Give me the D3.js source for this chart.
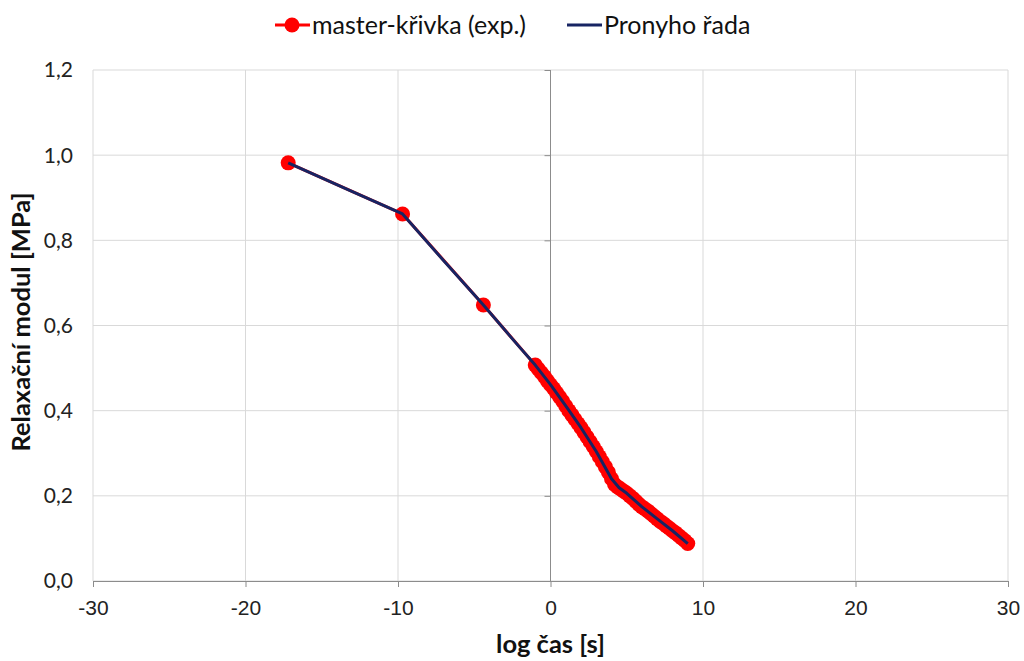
<!DOCTYPE html>
<html>
<head>
<meta charset="utf-8">
<script src="https://cdn.jsdelivr.net/npm/d3@7"></script>
<style>
  html, body { margin: 0; padding: 0; background: #fff; }
  svg { display: block; font-family: Lato, "Open Sans", sans-serif; }
</style>
</head>
<body>
<div id="chart"></div>
<script>
// measured master curve (log time, modulus in MPa)
var EXP_X = [-17.2, -9.7, -4.4,
  -1.0, -0.8, -0.6, -0.4, -0.2, 0.0, 0.2, 0.4, 0.6, 0.8, 1.0, 1.2, 1.4, 1.6, 1.8, 2.0,
  2.2, 2.4, 2.6, 2.8, 3.0, 3.2, 3.4, 3.6, 3.8, 4.0, 4.2, 4.4, 4.6, 4.8, 5.0, 5.2, 5.4,
  5.6, 5.8, 6.0, 6.2, 6.4, 6.6, 6.8, 7.0, 7.2, 7.4, 7.6, 7.8, 8.0, 8.2, 8.4, 8.6, 8.8, 9.0];
var EXP_Y = [0.982, 0.862, 0.648,
  0.507, 0.498, 0.489, 0.480, 0.470, 0.461, 0.452, 0.442, 0.432, 0.422, 0.411, 0.400, 0.390, 0.380, 0.370, 0.360,
  0.349, 0.338, 0.327, 0.316, 0.304, 0.292, 0.280, 0.268, 0.255, 0.240, 0.227, 0.221, 0.216, 0.211, 0.206, 0.200, 0.194,
  0.187, 0.180, 0.174, 0.169, 0.164, 0.158, 0.152, 0.146, 0.140, 0.135, 0.129, 0.124, 0.118, 0.113, 0.107, 0.101, 0.095, 0.088];
// Prony series fit
var PRONY_X = [-17.2, -13.1, -9.7, -7.0, -4.4, -2.0, -1.0, 0, 1, 2, 3, 4, 4.5, 5, 6, 7, 8, 9];
var PRONY_Y = [0.982, 0.916, 0.862, 0.752, 0.648, 0.548, 0.507, 0.461, 0.411, 0.360, 0.304, 0.240, 0.219, 0.206, 0.174, 0.146, 0.118, 0.088];
var X_TICKS = [-30, -20, -10, 0, 10, 20, 30];
var Y_TICKS = [0, 0.2, 0.4, 0.6, 0.8, 1.0, 1.2];
var SERIES = ["master-křivka (exp.)", "Pronyho řada"];

var RED = "#ff0000", NAVY = "#172463", GRID = "#d9d9d9", AXIS = "#8c8c8c";
var W = 1024, H = 661, m = { l: 93, r: 16, t: 70, b: 80 };

var svg = d3.select("#chart").append("svg").attr("width", W).attr("height", H);
var iw = W - m.l - m.r, ih = H - m.t - m.b;
var g = svg.append("g").attr("transform", "translate(" + m.l + "," + m.t + ")");
var x = d3.scaleLinear().domain([-30, 30]).range([0, iw]);
var y = d3.scaleLinear().domain([0, 1.2]).range([ih, 0]);
var fmt = function (v) { return d3.format(".1f")(v).replace(".", ","); };

// grid
g.selectAll(".gx").data(X_TICKS).enter().append("line")
  .attr("x1", function (d) { return x(d); }).attr("x2", function (d) { return x(d); })
  .attr("y1", 0).attr("y2", ih).attr("stroke", GRID).attr("stroke-width", 1);
g.selectAll(".gy").data(Y_TICKS).enter().append("line")
  .attr("x1", 0).attr("x2", iw)
  .attr("y1", function (d) { return y(d); }).attr("y2", function (d) { return y(d); })
  .attr("stroke", GRID).attr("stroke-width", 1);

// x axis along y = 0 (plain hyphen minus, as in the original)
var xa = g.append("g").attr("transform", "translate(0," + ih + ")")
  .call(d3.axisBottom(x).tickValues(X_TICKS).tickSize(6).tickPadding(13)
    .tickFormat(function (d) { return String(d); }));
xa.select(".domain").attr("stroke", AXIS);
xa.selectAll(".tick line").attr("stroke", AXIS);
xa.selectAll("text").attr("fill", "#222").style("font-size", "21px");

// y axis line at x = 0, labels at the left edge
var ya = g.append("g").attr("transform", "translate(" + x(0) + ",0)")
  .call(d3.axisLeft(y).tickValues(Y_TICKS).tickSize(6).tickFormat(""));
ya.select(".domain").attr("stroke", AXIS).attr("d", "M0," + ih + "V0");
ya.selectAll(".tick line").attr("stroke", AXIS);
g.selectAll(".ylab").data(Y_TICKS).enter().append("text")
  .attr("x", -20).attr("y", function (d) { return y(d); }).attr("dy", "0.35em")
  .attr("text-anchor", "end").attr("fill", "#222").style("font-size", "21px")
  .text(fmt);

// titles
svg.append("text").attr("x", m.l + x(0)).attr("y", 653).attr("text-anchor", "middle")
  .style("font-size", "25.5px").style("font-weight", "bold").attr("fill", "#111").text("log čas [s]");
svg.append("text").attr("transform", "translate(30,322) rotate(-90)").attr("text-anchor", "middle")
  .style("font-size", "25.5px").style("font-weight", "bold").attr("fill", "#111").text("Relaxační modul [MPa]");

// series
var expPts = EXP_X.map(function (v, i) { return [v, EXP_Y[i]]; });
var pronyPts = PRONY_X.map(function (v, i) { return [v, PRONY_Y[i]]; });
var line = d3.line().x(function (d) { return x(d[0]); }).y(function (d) { return y(d[1]); });
g.append("path").attr("d", line(expPts)).attr("fill", "none").attr("stroke", RED).attr("stroke-width", 3);
g.selectAll(".pt").data(expPts).enter().append("circle")
  .attr("cx", function (d) { return x(d[0]); }).attr("cy", function (d) { return y(d[1]); })
  .attr("r", 7.5).attr("fill", RED);
g.append("path").attr("d", line(pronyPts)).attr("fill", "none").attr("stroke", NAVY).attr("stroke-width", 3)
  .attr("stroke-linejoin", "round");

// legend
var lg = svg.append("g");
lg.append("line").attr("x1", 275).attr("x2", 310).attr("y1", 25).attr("y2", 25).attr("stroke", RED).attr("stroke-width", 3);
lg.append("circle").attr("cx", 292).attr("cy", 25).attr("r", 7.5).attr("fill", RED);
lg.append("text").attr("x", 312).attr("y", 25).attr("dy", "0.35em").style("font-size", "25px").attr("fill", "#111").text(SERIES[0]);
lg.append("line").attr("x1", 567).attr("x2", 602).attr("y1", 25).attr("y2", 25).attr("stroke", NAVY).attr("stroke-width", 3);
lg.append("text").attr("x", 604).attr("y", 25).attr("dy", "0.35em").style("font-size", "25px").attr("fill", "#111").text(SERIES[1]);
</script>
</body>
</html>
